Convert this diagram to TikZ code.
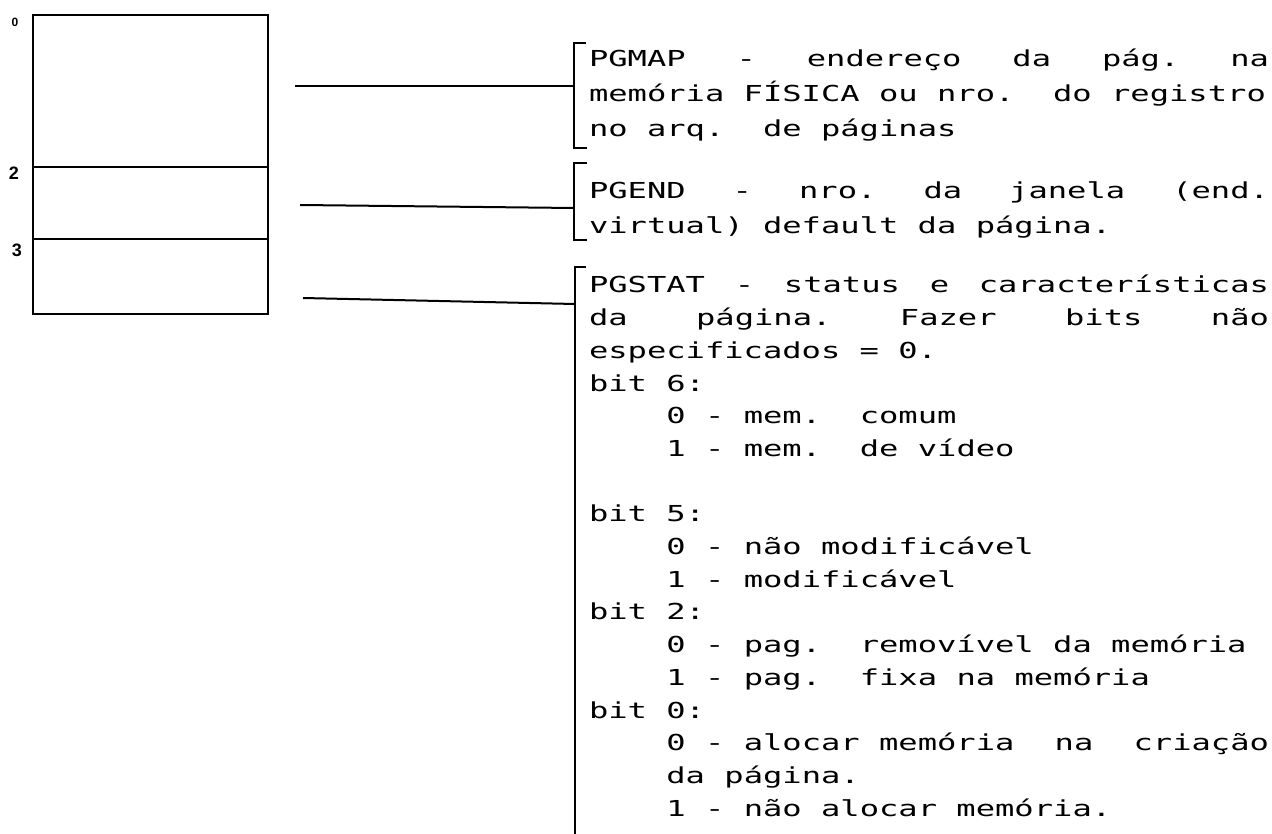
\documentclass[tikz,border=0pt]{standalone}
\usepackage{fontspec}
\newfontfamily\dotfont[FakeStretch=1.46]{DejaVu Sans Mono}
\newfontfamily\numfont{Liberation Sans}
\newcommand{\ind}{\leavevmode\hspace*{77.4pt}}
\newcommand{\dotsize}[1]{\dotfont\fontsize{22}{#1}\selectfont\frenchspacing
  \fontdimen2\font=19.35pt\fontdimen3\font=0pt\fontdimen4\font=0pt\fontdimen7\font=0pt\relax}

\begin{document}
\begin{tikzpicture}[x=1pt, y=-1pt, line width=2pt,
    field/.style={draw, anchor=north west, minimum width=235pt, inner sep=0pt},
    num/.style={font=\numfont\bfseries\fontsize{18}{20}\selectfont},
    note/.style={anchor=north west, inner sep=0pt, text width=680pt, align=flush left,
      font=\dotsize{35}}]
    \useasboundingbox (0,0) rectangle (1272,834);
    % the page entry: three fields
    \node[field, minimum height=152pt] (pgmap) at (32,14) {};
    \node[field, minimum height=72pt] (pgend) at (32,166) {};
    \node[field, minimum height=75pt] (pgstat) at (32,238) {};
    \node[num, font=\numfont\bfseries\fontsize{12}{14}\selectfont] (off0) at (15,22) {0};
    \node[num] (off2) at (14,173) {2};
    \node[num] (off3) at (17,250) {3};
    % descriptions
    \node[note] (mapdesc) at (588,41.5) {\strut PGMAP\hfill-\hfill endereço\hfill da\hfill pág.\hfill na\\
      memória FÍSICA ou nro.~~do registro\\
      no arq.~~de páginas};
    \node[note] (enddesc) at (588,173.5) {\strut PGEND\hfill-\hfill nro.\hfill da\hfill janela\hfill (end.\\
      virtual) default da página.};
    \node[note, font=\dotsize{32.7}] (statdesc) at (588,269.1) {\strut PGSTAT\hfill-\hfill status\hfill e\hfill características\\
      da\hfill página.\hfill Fazer\hfill bits\hfill não\\
      especificados = 0.\\
      bit 6:\\
      \ind 0 - mem.~~comum\\
      \ind 1 - mem.~~de vídeo\\[32.7pt]
      bit 5:\\
      \ind 0 - não modificável\\
      \ind 1 - modificável\\
      bit 2:\\
      \ind 0 - pag.~~removível da memória\\
      \ind 1 - pag.~~fixa na memória\\
      bit 0:\\
      \ind 0 - alocar memória\hfill na\hfill criação\\
      \ind da página.\\
      \ind 1 - não alocar memória.};
    % brackets
    \draw (586,43) -| (574,148) -- (587,148);
    \draw (587,163) -| (574,240) -- (587,240);
    \draw (586,267) -| (575,840);
    % connectors
    \coordinate (mapa) at (295,86);
    \coordinate (mapb) at (574,86);
    \coordinate (enda) at (300,205);
    \coordinate (endb) at (574,208);
    \coordinate (stata) at (303,298);
    \coordinate (statb) at (575,304);
    \draw (mapa) -- (mapb);
    \draw (enda) -- (endb);
    \draw (stata) -- (statb);
  \end{tikzpicture}
\end{document}
